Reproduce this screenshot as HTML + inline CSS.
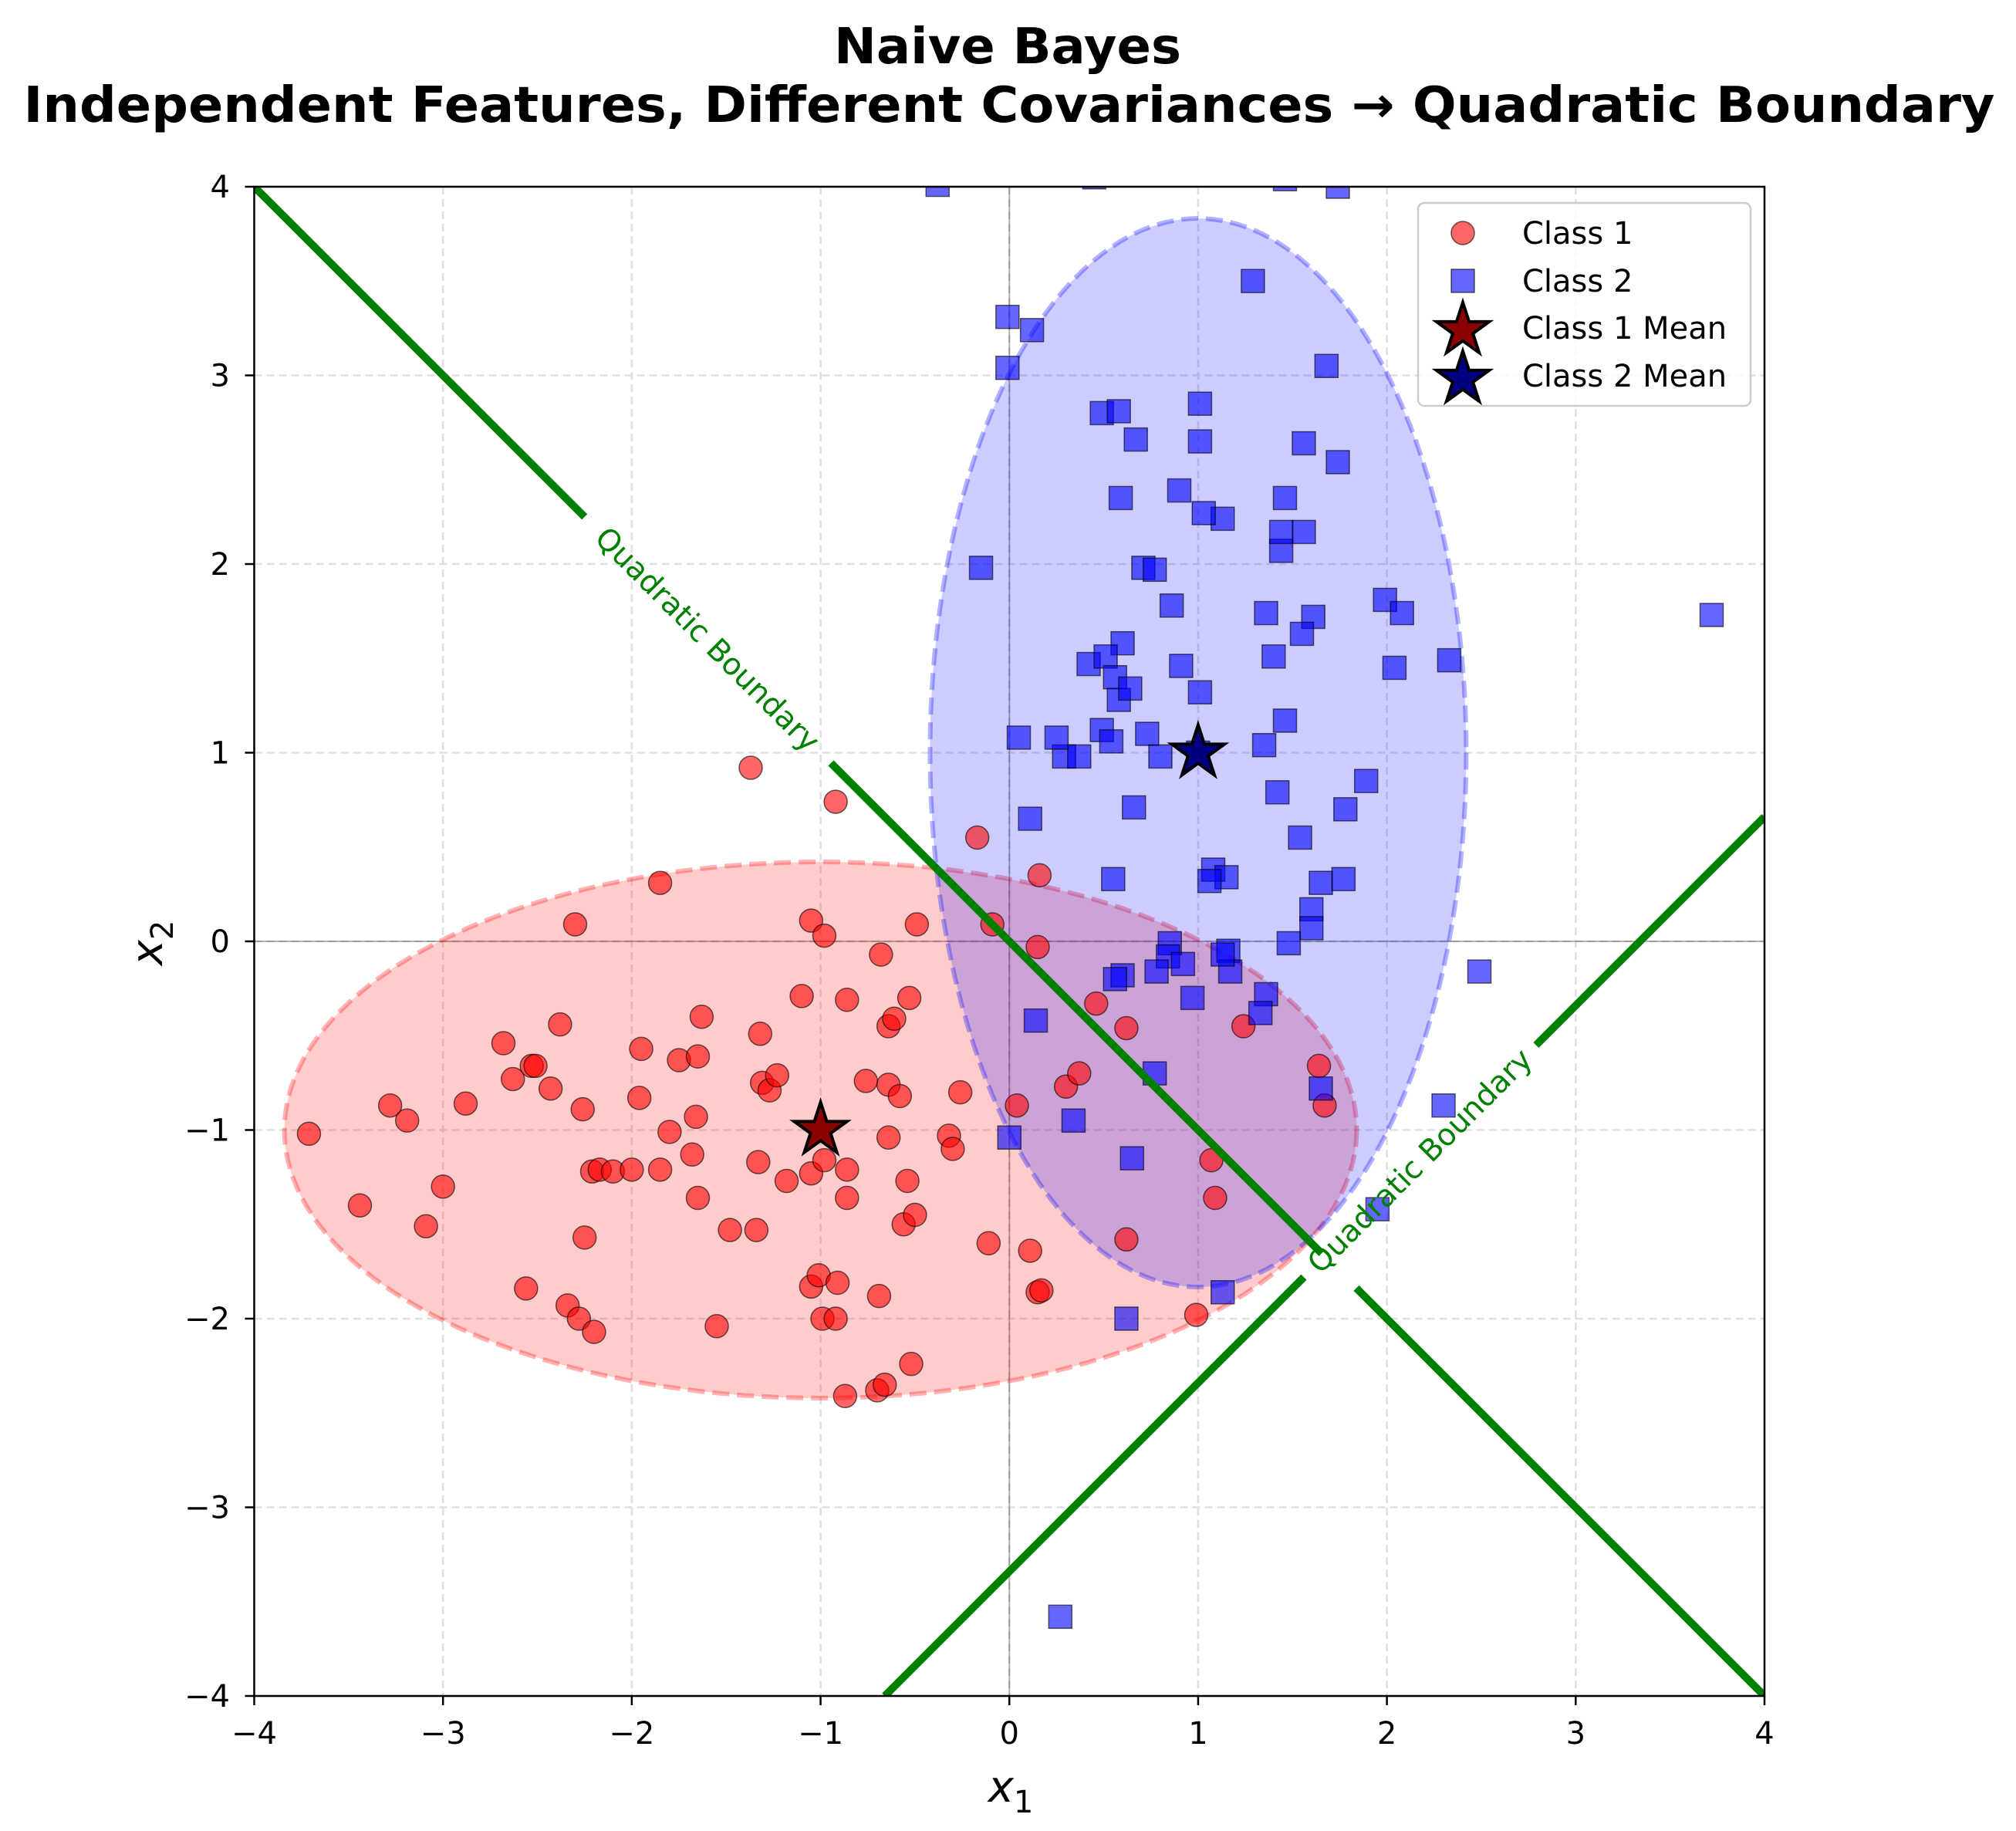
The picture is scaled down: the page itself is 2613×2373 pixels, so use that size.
<!DOCTYPE html>
<html><head><meta charset="utf-8"><style>
html,body{margin:0;padding:0;background:#fff;}
svg{display:block;font-family:"DejaVu Sans","Liberation Sans",sans-serif;}
</style></head><body>
<svg id="chart" width="2613" height="2373" viewBox="0 0 2613 2373" xmlns="http://www.w3.org/2000/svg">
<rect width="2613" height="2373" fill="#fff"/>
<text x="1306" y="82" text-anchor="middle" font-size="64" font-weight="bold" textLength="450" lengthAdjust="spacingAndGlyphs">Naive Bayes</text>
<text x="1308" y="158" text-anchor="middle" font-size="64" font-weight="bold" textLength="2555" lengthAdjust="spacingAndGlyphs">Independent Features, Different Covariances → Quadratic Boundary</text>
<defs><clipPath id="plotclip"><rect x="329.5" y="242" width="1957.5" height="1956"/></clipPath></defs>
<g id="grid"></g>
<g id="plot" clip-path="url(#plotclip)"></g>
<rect x="329.5" y="242" width="1957.5" height="1956" fill="none" stroke="#000" stroke-width="2.5"/>
<g id="ticks"></g>
<text x="1310" y="2335" text-anchor="middle" font-size="56" font-style="italic">x<tspan font-size="40" font-style="normal" dy="14">1</tspan></text>
<text transform="translate(210,1222) rotate(-90)" text-anchor="middle" font-size="56" font-style="italic">x<tspan font-size="40" font-style="normal" dy="14">2</tspan></text>
<g>
<rect x="1838" y="263" width="431" height="263" rx="8" fill="#fff" fill-opacity="0.8" stroke="#ccc" stroke-width="2.5"/>
<circle cx="1896" cy="302" r="15" fill="#ff6666" stroke="#000" stroke-opacity="0.6" stroke-width="1.5"/>
<text x="1973" y="316" font-size="40">Class 1</text>
<rect x="1881" y="349" width="30" height="30" fill="#6666ff" stroke="#000" stroke-opacity="0.6" stroke-width="1.5"/>
<text x="1973" y="378" font-size="40">Class 2</text>
<g id="legstar1"></g>
<text x="1973" y="439" font-size="40">Class 1 Mean</text>
<g id="legstar2"></g>
<text x="1973" y="501" font-size="40">Class 2 Mean</text>
</g>
</svg>
<script>
const ticks = [-4,-3,-2,-1,0,1,2,3,4];
const class1X = [-3.71,-3.44,-3.28,-3.19,-3.09,-3.00,-2.88,-2.68,-2.63,-2.56,-2.53,-2.51,-2.43,-2.38,-2.34,-2.30,-2.28,-2.26,-2.25,-2.21,-2.20,-2.17,-2.10,-2.00,-1.96,-1.95,-1.85,-1.85,-1.80,-1.75,-1.68,-1.66,-1.65,-1.65,-1.63,-1.55,-1.48,-1.34,-1.33,-1.32,-1.31,-1.27,-1.23,-1.18,-1.10,-1.05,-1.05,-1.05,-1.01,-0.99,-0.98,-0.98,-0.92,-0.92,-0.91,-0.87,-0.86,-0.86,-0.86,-0.76,-0.70,-0.68,-0.66,-0.64,-0.64,-0.64,-0.61,-0.58,-0.56,-0.54,-0.53,-0.52,-0.50,-0.49,-0.32,-0.30,-0.26,-0.17,-0.11,-0.09,0.04,0.11,0.15,0.15,0.16,0.17,0.30,0.37,0.46,0.62,0.62,0.99,1.07,1.09,1.24,1.64,1.67,-1.37,-0.69];
const class1Y = [-1.02,-1.40,-0.87,-0.95,-1.51,-1.30,-0.86,-0.54,-0.73,-1.84,-0.66,-0.66,-0.78,-0.44,-1.93,0.09,-2.00,-0.89,-1.57,-1.22,-2.07,-1.21,-1.22,-1.21,-0.83,-0.57,0.31,-1.21,-1.01,-0.63,-1.13,-0.93,-1.36,-0.61,-0.40,-2.04,-1.53,-1.53,-1.17,-0.49,-0.75,-0.79,-0.71,-1.27,-0.29,-1.83,0.11,-1.23,-1.77,-2.00,0.03,-1.16,-2.00,0.74,-1.81,-2.41,-1.21,-1.36,-0.31,-0.74,-2.38,-0.07,-2.35,-0.76,-1.04,-0.45,-0.41,-0.82,-1.50,-1.27,-0.30,-2.24,-1.45,0.09,-1.03,-1.10,-0.80,0.55,-1.60,0.09,-0.87,-1.64,-1.86,-0.03,0.35,-1.85,-0.77,-0.70,-0.33,-0.46,-1.58,-1.98,-1.16,-1.36,-0.45,-0.66,-0.87,0.92,-1.88];
const class2X = [-0.38,0.45,1.46,1.74,1.29,-0.01,-0.01,0.12,1.68,0.49,0.58,0.67,1.01,1.01,1.56,1.74,0.59,0.90,1.46,1.56,1.13,1.03,1.44,1.44,-0.15,0.71,0.77,0.86,1.99,2.08,1.36,1.61,1.55,3.72,2.33,2.04,1.40,0.91,0.60,0.42,0.51,0.56,0.58,0.64,1.01,0.05,0.29,0.37,0.25,0.49,0.54,0.73,0.80,1.00,1.35,1.46,1.89,1.78,1.54,1.42,1.65,1.60,1.60,1.77,0.66,0.11,0.55,1.08,1.15,1.06,1.48,0.85,0.84,0.92,1.16,1.17,0.60,0.56,0.78,0.97,1.36,1.33,0.14,0.34,0.77,1.65,2.30,2.49,0.00,0.65,1.13,0.62,1.95,0.27,1.13];
const class2Y = [4.01,4.05,4.04,4.00,3.50,3.31,3.04,3.24,3.05,2.80,2.81,2.66,2.85,2.65,2.64,2.54,2.35,2.39,2.35,2.17,2.24,2.27,2.07,2.17,1.98,1.98,1.97,1.78,1.81,1.74,1.74,1.72,1.63,1.73,1.49,1.45,1.51,1.46,1.58,1.47,1.51,1.40,1.28,1.34,1.32,1.08,0.98,0.98,1.08,1.12,1.06,1.10,0.98,1.00,1.04,1.17,0.85,0.70,0.55,0.79,0.31,0.17,0.07,0.33,0.71,0.65,0.33,0.38,0.34,0.32,-0.01,-0.01,-0.08,-0.12,-0.05,-0.16,-0.18,-0.20,-0.16,-0.30,-0.28,-0.38,-0.42,-0.95,-0.70,-0.78,-0.87,-0.16,-1.04,-1.15,-1.86,-2.00,-1.42,-3.58,-0.07];
const means = [[-1,-1],[1,1]];
const ellipse1 = [-1,-1,2.84,1.42];
const ellipse2 = [1,1,1.42,2.83];
const boundaryA = [[-4,-2.25],[-0.945,1.654],[1.838,4]];
const boundaryB = [[-0.66,1.56],[2.79,4]];
const boundaryBIntercept = -3.34;

const NS='http://www.w3.org/2000/svg';
const X0=329.5,X1=2287,Y0=242,Y1=2198;
const sx=v=>X0+(v+4)/8*(X1-X0);
const sy=v=>Y1-(v+4)/8*(Y1-Y0);
function mk(tag,attrs,parent){const e=document.createElementNS(NS,tag);for(const k in attrs)e.setAttribute(k,attrs[k]);parent.appendChild(e);return e;}
const grid=document.getElementById('grid'),plot=document.getElementById('plot'),tk=document.getElementById('ticks');
ticks.forEach(t=>{
  let g=mk('line',{x1:sx(t),x2:sx(t),y1:Y0,y2:Y1,stroke:'#e0e0e0','stroke-width':2.5,'stroke-dasharray':'10,6'},grid);
  
  
  g=mk('line',{x1:X0,x2:X1,y1:sy(t),y2:sy(t),stroke:'#e0e0e0','stroke-width':2.5,'stroke-dasharray':'10,6'},grid);
  
  
  let l=mk('line',{x1:sx(t),x2:sx(t),y1:Y1,y2:Y1+12,stroke:'#000','stroke-width':2.5},tk);
  
  
  l=mk('line',{x1:X0-12,x2:X0,y1:sy(t),y2:sy(t),stroke:'#000','stroke-width':2.5},tk);
  
  
  const lab=t<0?'\u2212'+Math.abs(t):String(t);
  let tx=mk('text',{x:sx(t),y:2260,'text-anchor':'middle','font-size':40},tk);tx.textContent=lab;
  
  
  tx=mk('text',{x:298,y:sy(t)+14,'text-anchor':'end','font-size':40},tk);tx.textContent=lab;
  
  
});
let z=mk('line',{x1:sx(0),x2:sx(0),y1:Y0,y2:Y1,stroke:'#000','stroke-opacity':0.3,'stroke-width':2},plot);


z=mk('line',{x1:X0,x2:X1,y1:sy(0),y2:sy(0),stroke:'#000','stroke-opacity':0.3,'stroke-width':2},plot);


function ell(p,col,name){const k=(X1-X0)/8;
  const e=mk('ellipse',{cx:sx(p[0]),cy:sy(p[1]),rx:p[2]*k,ry:p[3]*k,fill:col,'fill-opacity':0.2,stroke:col,'stroke-opacity':0.3,'stroke-width':6,'stroke-dasharray':'22,10'},plot);
  
  }
ell(ellipse1,'#ff0000','class1-covariance-ellipse');
ell(ellipse2,'#0000ff','class2-covariance-ellipse');
class1X.forEach((x,i)=>{const c=mk('circle',{cx:sx(x),cy:sy(class1Y[i]),r:15,fill:'#ff0000','fill-opacity':0.6,stroke:'#000','stroke-opacity':0.6,'stroke-width':1.5},plot);
  
  });
class2X.forEach((x,i)=>{const c=mk('rect',{x:sx(x)-15,y:sy(class2Y[i])-15,width:30,height:30,fill:'#0000ff','fill-opacity':0.6,stroke:'#000','stroke-opacity':0.6,'stroke-width':1.5},plot);
  
  });
boundaryA.forEach(s=>{const l=mk('line',{x1:sx(s[0]),y1:sy(-s[0]),x2:sx(s[1]),y2:sy(-s[1]),stroke:'#008000','stroke-width':10},plot);
  
  });
boundaryB.forEach(s=>{const l=mk('line',{x1:sx(s[0]),y1:sy(s[0]+boundaryBIntercept),x2:sx(s[1]),y2:sy(s[1]+boundaryBIntercept),stroke:'#008000','stroke-width':10},plot);
  
  });
let lb=mk('text',{transform:`translate(${sx(-1.6)},${sy(1.6)}) rotate(45)`,'text-anchor':'middle','font-size':39,fill:'#008000',dy:13},plot);
lb.textContent='Quadratic Boundary';


lb=mk('text',{transform:`translate(${sx(2.175)},${sy(2.175+boundaryBIntercept)}) rotate(-45)`,'text-anchor':'middle','font-size':39,fill:'#008000',dy:13},plot);
lb.textContent='Quadratic Boundary';


function starPts(cx,cy,R){const r=R*0.382;let p=[];for(let i=0;i<10;i++){const a=-Math.PI/2+i*Math.PI/5;const rr=i%2?r:R;p.push((cx+rr*Math.cos(a)).toFixed(1)+','+(cy+rr*Math.sin(a)).toFixed(1));}return p.join(' ');}
const cols=['#8b0000','#000080'];
means.forEach((m,i)=>{const s=mk('polygon',{points:starPts(sx(m[0]),sy(m[1]),36),fill:cols[i],stroke:'#000','stroke-width':4,'stroke-linejoin':'miter'},plot);
  
  });
mk('polygon',{points:starPts(1896,428,36),fill:cols[0],stroke:'#000','stroke-width':4},document.getElementById('legstar1'));
mk('polygon',{points:starPts(1896,491,36),fill:cols[1],stroke:'#000','stroke-width':4},document.getElementById('legstar2'));
</script>
</body></html>
